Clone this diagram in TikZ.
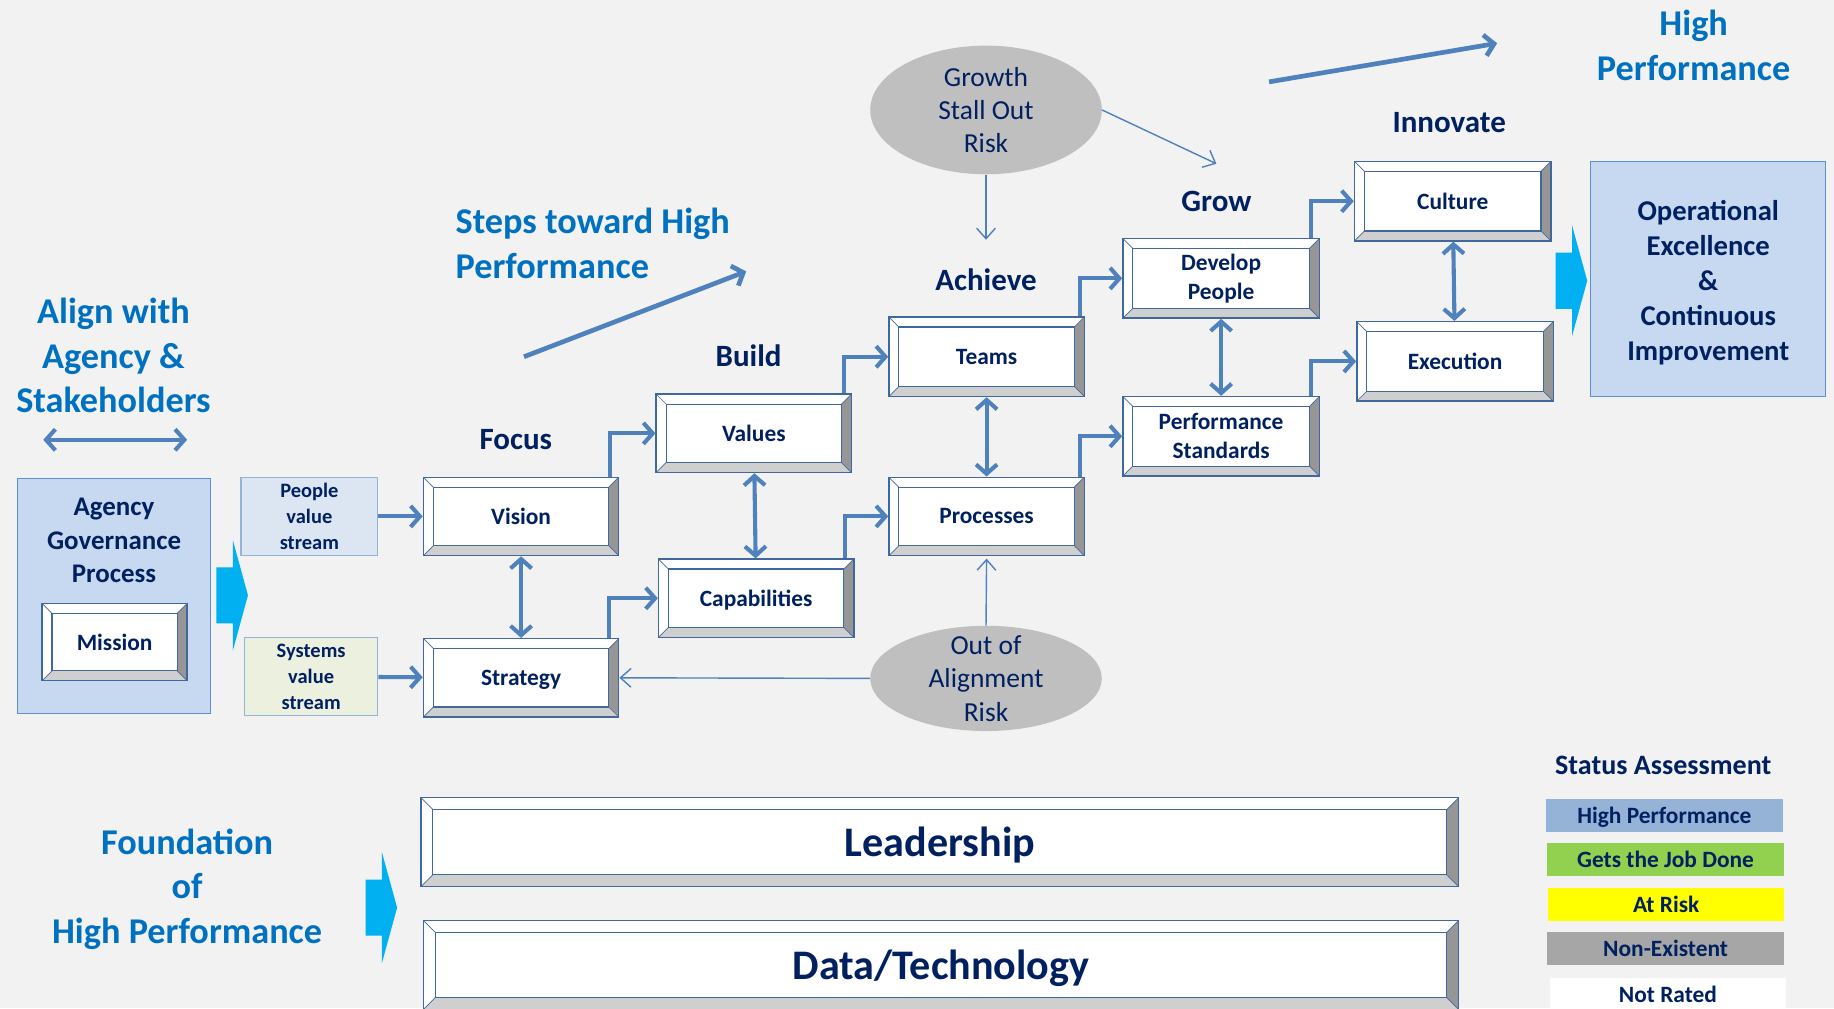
\documentclass[tikz,border=0pt]{standalone}
\usepackage{fontspec}
\setmainfont{Carlito}
\usepackage{tikz}
\usetikzlibrary{positioning, calc, arrows.meta, shapes.geometric}
\usepackage{xcolor}
\definecolor{xnavy}{HTML}{002060}
\definecolor{xblue}{HTML}{0070C0}
\definecolor{xlink}{HTML}{4F81BD}
\definecolor{xline}{HTML}{41689C}
\definecolor{xcyan}{HTML}{00B0F0}
\definecolor{xbg}{HTML}{F2F2F2}
\definecolor{xrisk}{HTML}{BFBFBF}
\definecolor{xpanel}{HTML}{C6D9F1}
\definecolor{xpanelline}{HTML}{5B8FD0}
\definecolor{xdark}{HTML}{969696}
\definecolor{xlight}{HTML}{CFCFCF}
\definecolor{xpeople}{HTML}{DCE6F2}
\definecolor{xsystems}{HTML}{EBF1DE}
\definecolor{xstreamline}{HTML}{95B3D7}
\definecolor{xhigh}{HTML}{95B3D7}
\definecolor{xgets}{HTML}{92D050}
\definecolor{xatrisk}{HTML}{FFFF00}
\definecolor{xnone}{HTML}{A6A6A6}
\newcommand\bevelfaces[1]{%
	\coordinate (bnw) at (path picture bounding box.north west);
	\coordinate (bne) at (path picture bounding box.north east);
	\coordinate (bse) at (path picture bounding box.south east);
	\coordinate (bsw) at (path picture bounding box.south west);
	\coordinate (inw) at ([shift={(#1pt,-#1pt)}]bnw);
	\coordinate (ine) at ([shift={(-#1pt,-#1pt)}]bne);
	\coordinate (ise) at ([shift={(-#1pt,#1pt)}]bse);
	\coordinate (isw) at ([shift={(#1pt,#1pt)}]bsw);
	\fill[xdark] (bne) -- (bse) -- (ise) -- (ine) -- cycle;
	\fill[xlight] (bse) -- (bsw) -- (isw) -- (ise) -- cycle;
	\draw[xline, line width=1pt] (inw) rectangle (ise);
	\draw[xline, line width=0.6pt] (bnw) -- (inw) (bne) -- (ine) (bse) -- (ise) (bsw) -- (isw);
}
\newcommand\blockarrow[1]{\fill[xcyan, shift={#1}] (0,-24) -- (14,-24) -- (14,-47.5) -- (27,0) -- (14,47.5) -- (14,24) -- (0,24) -- cycle;}
\tikzset{
	arrow/.style={line width=3.5pt, xlink, ->, >={Straight Barb[length=8pt, width=18pt]}},
	dblarrow/.style={arrow, <->},
	thinarrow/.style={line width=1.2pt, xlink, ->, >={Straight Barb[length=9pt, width=16pt]}},
	trend/.style={arrow, line width=4pt},
	bevel/.style={draw=xline, line width=1.2pt, fill=white, inner sep=0pt, text=xnavy, align=center,
		minimum width=167pt, minimum height=67pt, font=\fontsize{20}{24.5}\selectfont\bfseries,
		path picture={\bevelfaces{#1}}},
	bevel/.default=8.5,
	heading/.style={text=xblue, align=center, font=\fontsize{31}{38}\selectfont\bfseries},
	stage/.style={text=xnavy, font=\fontsize{26.5}{30}\selectfont\bfseries},
	panel/.style={draw=xpanelline, line width=1pt, fill=xpanel, inner sep=0pt},
	stream/.style={draw=xstreamline, line width=1pt, text=xnavy, align=center, inner sep=0pt,
		font=\fontsize{17.5}{22}\selectfont\bfseries},
	risk/.style={ellipse, fill=xrisk, text=xnavy, align=center, inner sep=0pt, minimum width=198pt,
		font=\fontsize{23.5}{28.5}\selectfont},
	legend/.style={text=xnavy, inner sep=0pt, minimum width=202pt, minimum height=28pt, text depth=0pt,
		font=\fontsize{20}{24}\selectfont\bfseries},
}

\begin{document}
\begin{tikzpicture}[x=1pt, y=-1pt]
	\useasboundingbox[fill=xbg] (0,0) rectangle (1568,862);

	% headings
	\node[heading] (alignlbl) at (97,304) {Align with\\Agency \&\\Stakeholders};
	\coordinate (alignl) at (37,376);
	\coordinate (alignr) at (160,376);
	\draw[dblarrow] (alignl) -- (alignr);

	\node[heading, align=left, anchor=west] (stepslbl) at (386,208) {Steps toward High\\Performance};
	\coordinate (stepsfrom) at (448,305);
	\coordinate (stepsto) at (638,232);
	\draw[trend] (stepsfrom) -- (stepsto);

	\node[heading] (highlbl) at (1448,39) {High\\Performance};
	\coordinate (highfrom) at (1085,70);
	\coordinate (highto) at (1280,37);
	\draw[trend] (highfrom) -- (highto);

	\node[heading] (foundlbl) at (160,760) {Foundation\\of\\High Performance};

	% agency side
	\node[panel, minimum width=165pt, minimum height=201pt] (agency) at (97.5,509.5) {};
	\node[text=xnavy, align=center, font=\fontsize{23}{29}\selectfont\bfseries] (agencylbl) at (97.5,462) {Agency\\Governance\\Process};
	\node[bevel, minimum width=124pt, minimum height=66pt] (mission) at (98,549) {Mission};
	\blockarrow{(185,509)}

	\node[stream, fill=xpeople, minimum width=117pt, minimum height=67pt] (people) at (264.5,441.5) {People\\value\\stream};
	\node[stream, fill=xsystems, minimum width=114pt, minimum height=67pt] (systems) at (266,578.5) {Systems\\value\\stream};

	% stages
	\node[stage] (focus) at (441,376) {Focus};
	\node[stage] (build) at (640,304) {Build};
	\node[stage] (achieve) at (843,239) {Achieve};
	\node[stage] (grow) at (1040,172) {Grow};
	\node[stage] (innovate) at (1239,105) {Innovate};

	\node[bevel] (vision) at (445.5,441.5) {Vision};
	\node[bevel, text depth=0pt] (strategy) at (445.5,579.5) {Strategy};
	\node[bevel] (values) at (644.5,370.5) {Values};
	\node[bevel, text depth=0pt] (capab) at (646.5,511.5) {Capabilities};
	\node[bevel, minimum height=68pt] (teams) at (843.5,305) {Teams};
	\node[bevel] (processes) at (843.5,441.5) {Processes};
	\node[bevel, minimum width=168pt, minimum height=68pt] (develop) at (1044,238) {Develop\\People};
	\node[bevel, minimum width=168pt, minimum height=68pt] (perfstd) at (1044,373) {Performance\\Standards};
	\node[bevel, minimum width=168pt, minimum height=68pt] (culture) at (1242,172) {Culture};
	\node[bevel, minimum width=168pt, minimum height=68pt] (execution) at (1244,309) {Execution};

	\blockarrow{(1330,240)}
	\node[panel, minimum width=201pt, minimum height=201pt] (opex) at (1460.5,238.5) {};
	\node[text=xnavy, align=center, font=\fontsize{24.5}{30}\selectfont\bfseries] (opexlbl) at (1460.5,241.5) {Operational\\Excellence\\\&\\Continuous\\Improvement};

	% risks
	\node[risk, minimum height=110pt] (growth) at (843,94) {Growth\\Stall Out\\Risk};
	\node[risk, minimum height=90pt, inner ysep=-9pt] (outalign) at (843,580) {Out of\\Alignment\\Risk};
	\coordinate (stalltip) at (843,205);
	\coordinate (growtip) at (1040,140);
	\draw[thinarrow] (growth.south) -- (stalltip);
	\draw[thinarrow] (growth.east) -- (growtip);
	\draw[thinarrow, shorten >=2pt] (outalign.north) -- (processes.south);
	\draw[thinarrow] (outalign.west) -- (strategy.east);

	% links
	\draw[arrow] (people) -- (vision);
	\draw[arrow] (systems) -- (strategy);
	\draw[dblarrow] (vision) -- (strategy);
	\draw[arrow] ([xshift=-8pt]vision.north east) |- (values.west);
	\draw[arrow] ([xshift=-9pt]strategy.north east) |- (capab.west);
	\draw[dblarrow] (values) -- (capab);
	\draw[arrow] ([xshift=-7pt]values.north east) |- (teams.west);
	\draw[arrow] ([xshift=-8pt]capab.north east) |- (processes.west);
	\draw[dblarrow] (teams) -- (processes);
	\draw[arrow] ([xshift=-4pt]teams.north east) |- (develop.west);
	\draw[arrow] ([xshift=-4pt]processes.north east) |- (perfstd.west);
	\draw[dblarrow] (develop) -- (perfstd);
	\draw[arrow] ([xshift=-8pt]develop.north east) |- (culture.west);
	\draw[arrow] ([xshift=-8pt]perfstd.north east) |- (execution.west);
	\draw[dblarrow] (culture) -- (execution);

	% foundation
	\blockarrow{(312.5,776)}
	\node[bevel=10, minimum width=887pt, minimum height=76pt, text depth=0pt, font=\fontsize{36}{40}\selectfont\bfseries] (leadership) at (803.5,720) {Leadership};
	\node[bevel=10, minimum width=885pt, minimum height=76pt, text depth=0pt, font=\fontsize{36}{40}\selectfont\bfseries] (datatech) at (804.5,825) {Data/Technology};

	% status legend
	\node[text=xnavy, font=\fontsize{24}{28}\selectfont\bfseries] (status) at (1422,654) {Status Assessment};
	\node[legend, fill=xhigh] (lhigh) at (1423,697) {High Performance};
	\node[legend, fill=xgets] (lgets) at (1424,735) {Gets the Job Done};
	\node[legend, fill=xatrisk] (lrisk) at (1424.5,773) {At Risk};
	\node[legend, fill=xnone] (lnone) at (1424,811) {Non-Existent};
	\node[legend, fill=white] (lnot) at (1426,850) {Not Rated};
\end{tikzpicture}
\end{document}
